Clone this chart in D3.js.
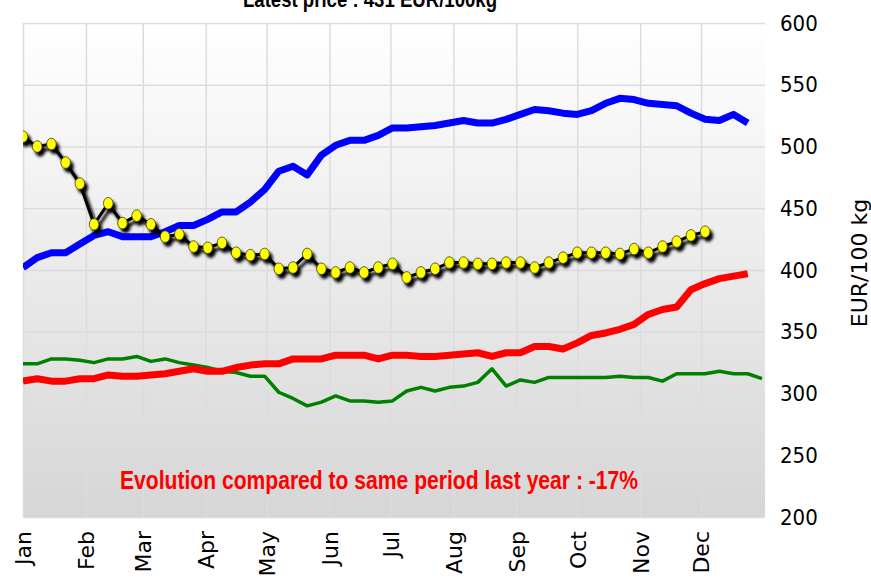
<!DOCTYPE html>
<html>
<head>
<meta charset="UTF-8">
<style>
    body { margin: 0; background: #fff; }
    svg { display: block; }
    .grid line { stroke: #dcdcdc; stroke-width: 1.5px; }
    .grid path { display: none; }
</style>
</head>
<body>
<svg id="chart" width="871" height="580"></svg>
<script src="https://d3js.org/d3.v7.min.js"></script>
<script>

// weekly prices, EUR/100 kg, first value = first week of January
let currentYear = [508, 500, 502, 487, 470, 437, 454, 438, 444, 437, 427, 429, 419, 418, 422, 414,
    412, 413, 401, 402, 413, 401, 398, 402, 398, 402, 405, 394, 398, 401, 406, 406, 405, 405, 406,
    406, 402, 406, 410, 414, 414, 414, 413, 417, 414, 419, 423, 428, 431];
let blueSeries = [402, 410, 414, 414, 421, 428, 431, 427, 427, 427, 431, 436, 436, 441, 447, 447,
    455, 465, 480, 484, 477, 493, 501, 505, 505, 509, 515, 515, 516, 517, 519, 521, 519, 519, 522,
    526, 530, 529, 527, 526, 529, 535, 539, 538, 535, 534, 533, 527, 522, 521, 526, 519];
let redSeries = [310, 312, 310, 310, 312, 312, 315, 314, 314, 315, 316, 318, 320, 318, 318, 321,
    323, 324, 324, 328, 328, 328, 331, 331, 331, 328, 331, 331, 330, 330, 331, 332, 333, 330, 333,
    333, 338, 338, 336, 341, 347, 349, 352, 356, 364, 368, 370, 384, 389, 393, 395, 397];
let greenSeries = [324, 324, 328, 328, 327, 325, 328, 328, 330, 326, 328, 325, 323, 321, 318, 317,
    314, 314, 301, 296, 290, 293, 298, 294, 294, 293, 294, 302, 305, 302, 305, 306, 309, 320, 306,
    311, 309, 313, 313, 313, 313, 313, 314, 313, 313, 310, 316, 316, 316, 318, 316, 316, 312];

let yTicks = [200, 250, 300, 350, 400, 450, 500, 550, 600];
let titleText = "Latest price : 431  EUR/100kg";
let noteText = "Evolution compared to same period last year : -17%";
let unitText = "EUR/100 kg";

let yearStart = new Date(2023, 0, 1), yearEnd = new Date(2024, 0, 1);
let weekDate = i => d3.timeDay.offset(yearStart, 7 * i);

let plotLeft = 23, plotRight = 765, plotTop = 23, plotBottom = 517;

let svg = d3.select("#chart");

let x = d3.scaleTime().domain([yearStart, yearEnd]).range([plotLeft, plotRight - 1]);
let y = d3.scaleLinear().domain([200, 600]).range([plotBottom, plotTop]);

let defs = svg.append("defs");
let grad = defs.append("linearGradient").attr("id", "bg")
    .attr("x1", 0).attr("y1", 0).attr("x2", 0).attr("y2", 1);
grad.append("stop").attr("offset", "0%").attr("stop-color", "#ffffff");
grad.append("stop").attr("offset", "100%").attr("stop-color", "#d6d6d6");

let shadow = defs.append("filter").attr("id", "shadow")
    .attr("x", "-10%").attr("y", "-10%").attr("width", "120%").attr("height", "130%");
shadow.append("feDropShadow").attr("dx", 3).attr("dy", 4).attr("stdDeviation", 1.4)
    .attr("flood-color", "#000").attr("flood-opacity", 1);

defs.append("clipPath").attr("id", "plot")
    .append("rect").attr("x", plotLeft).attr("y", 0)
    .attr("width", plotRight - plotLeft).attr("height", plotBottom);

svg.append("rect")
    .attr("x", plotLeft).attr("y", plotTop)
    .attr("width", plotRight - plotLeft).attr("height", plotBottom - plotTop)
    .attr("fill", "url(#bg)");

// vertical month gridlines + rotated labels
let months = d3.timeMonth.range(yearStart, yearEnd);
let xAxis = svg.append("g")
    .attr("class", "grid")
    .attr("transform", "translate(0," + plotBottom + ")")
    .call(d3.axisBottom(x).tickValues(months).tickSize(-(plotBottom - plotTop)).tickFormat(d3.timeFormat("%b")));

xAxis.selectAll("text")
    .attr("transform", "rotate(-90)")
    .attr("x", -14).attr("y", 0).attr("dy", "0.36em")
    .attr("text-anchor", "end")
    .attr("fill", "#000")
    .style("font-family", "'DejaVu Sans', sans-serif")
    .style("font-size", "22px");

// horizontal gridlines + right axis labels
let yAxis = svg.append("g")
    .attr("class", "grid")
    .attr("transform", "translate(" + plotRight + ",0)")
    .call(d3.axisRight(y).tickValues(yTicks).tickSize(-(plotRight - plotLeft)).tickPadding(15));

yAxis.selectAll("text")
    .attr("fill", "#000")
    .style("font-family", "'DejaVu Sans Condensed', 'DejaVu Sans', sans-serif")
    .style("font-size", "22px");

svg.append("text")
    .attr("transform", "translate(859,263) rotate(-90)")
    .attr("text-anchor", "middle")
    .attr("dy", "0.35em")
    .style("font-family", "'DejaVu Sans', sans-serif")
    .style("font-size", "22px")
    .text(unitText);

let line = d3.line()
    .x((d, i) => x(weekDate(i)))
    .y(d => y(d));

let plot = svg.append("g").attr("clip-path", "url(#plot)");

plot.append("path").datum(greenSeries)
    .attr("d", line).attr("fill", "none")
    .attr("stroke", "#008000").attr("stroke-width", 3.5).attr("stroke-linejoin", "round");

plot.append("path").datum(redSeries)
    .attr("d", line).attr("fill", "none")
    .attr("stroke", "#ff0000").attr("stroke-width", 7).attr("stroke-linejoin", "round");

plot.append("path").datum(blueSeries)
    .attr("d", line).attr("fill", "none")
    .attr("stroke", "#0000ff").attr("stroke-width", 7).attr("stroke-linejoin", "round");

let cur = plot.append("g").attr("filter", "url(#shadow)");
cur.append("path").datum(currentYear)
    .attr("d", line).attr("fill", "none")
    .attr("stroke", "#000").attr("stroke-width", 3).attr("stroke-linejoin", "round");
cur.selectAll("ellipse")
    .data(currentYear)
    .enter()
    .append("ellipse")
    .attr("cx", (d, i) => x(weekDate(i)))
    .attr("cy", d => y(d))
    .attr("rx", 4.8).attr("ry", 5.8)
    .attr("fill", "#ffff00")
    .attr("stroke", "#3a3a00").attr("stroke-width", 0.8);

// the original uses a narrow bold face; squeeze a bold face to the same width
let boldNarrow = "'Liberation Sans Narrow', 'Arial Narrow', 'Liberation Sans', sans-serif";

svg.append("text")
    .attr("x", 370).attr("y", 7)
    .attr("text-anchor", "middle")
    .attr("textLength", 254)
    .attr("lengthAdjust", "spacingAndGlyphs")
    .style("font-family", boldNarrow)
    .style("font-weight", "bold")
    .style("font-size", "22px")
    .text(titleText);

svg.append("text")
    .attr("x", 379).attr("y", 489)
    .attr("text-anchor", "middle")
    .attr("textLength", 518)
    .attr("lengthAdjust", "spacingAndGlyphs")
    .attr("fill", "#ff0000")
    .style("font-family", boldNarrow)
    .style("font-weight", "bold")
    .style("font-size", "25px")
    .text(noteText);

</script>
</body>
</html>
